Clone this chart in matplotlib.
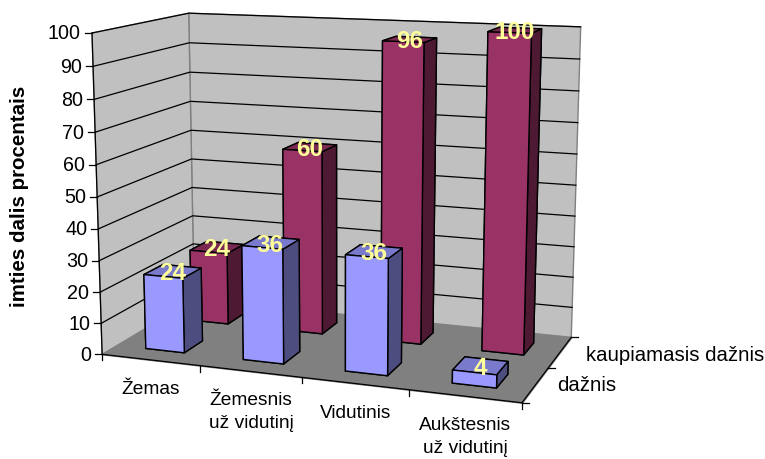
import matplotlib
matplotlib.use('Agg')
import matplotlib.pyplot as plt
from matplotlib.lines import Line2D
from matplotlib.transforms import IdentityTransform
from mpl_toolkits.mplot3d import proj3d
from mpl_toolkits.mplot3d.art3d import Poly3DCollection

plt.rcParams['font.family'] = ['Liberation Sans', 'DejaVu Sans']

categories = ['Žemas', 'Žemesnis\nuž vidutinį', 'Vidutinis', 'Aukštesnis\nuž vidutinį']
series_names = ['dažnis', 'kaupiamasis dažnis']
daznis = [24, 36, 36, 4]
kaupiamasis = [24, 60, 96, 100]
z_ticks = list(range(0, 101, 10))

W, H = 765, 459
fig = plt.figure(figsize=(W / 100, H / 100), dpi=100)
ax = fig.add_subplot(projection='3d', computed_zorder=False)
ax.set_axis_off()

# camera and box of the 3d scene
cx, cy, size = 333.2, 198.6, 563.0
ax.view_init(elev=11.666, azim=-70.13)
ax.set_proj_type('persp', focal_length=0.5245)
ax.set_box_aspect((1, 0.5055, 0.7492))
ax.set_position([(cx - size / 2) / W, (H - cy - size / 2) / H, size / W, size / H])

front = '#9999ff', '#4d4d80', '#7a7acc'
back = '#993366', '#4d1933', '#7a2952'


def faces(c):
    # bottom, top, front, back, left, right
    return [c[0], c[2], c[0], c[0], c[0], c[1]]


# walls and floor
floor = [(0, 0, 0), (4, 0, 0), (4, 1, 0), (0, 1, 0)]
lwall = [(0, 0, 0), (0, 1, 0), (0, 1, 100), (0, 0, 100)]
bwall = [(0, 1, 0), (4, 1, 0), (4, 1, 100), (0, 1, 100)]
ax.add_collection3d(Poly3DCollection([lwall, bwall], facecolors='#c0c0c0', edgecolors='#808080', linewidths=1, zorder=1))
ax.add_collection3d(Poly3DCollection([floor], facecolors='#808080', edgecolors='#808080', linewidths=1, zorder=1))
for z in z_ticks[1:]:
    ax.plot([0, 0, 4], [0, 1, 1], [z, z, z], color='black', lw=0.9, zorder=2)
ax.plot([0, 0], [0, 0], [0, 100], color='black', lw=0.9, zorder=2)
ax.plot([0, 4, 4], [0, 0, 1], [0, 0, 0], color='black', lw=0.9, zorder=2)

# bars, back row first
bar_w, bar_d = 0.4, 0.2
rows = [(kaupiamasis, back, 0.75), (daznis, front, 0.25)]
for row, (vals, col, yc) in enumerate(rows):
    for i, v in enumerate(vals):
        ax.bar3d(i + 0.5 - bar_w / 2, yc - bar_d / 2, 0, bar_w, bar_d, v, color=faces(col),
                 edgecolor='black', linewidth=1, shade=False, zorder=3 + row + i * 0.1)

ax.set_xlim(0, 4)
ax.set_ylim(0, 1)
ax.set_zlim(0, 100)
ax.apply_aspect()
M = ax.get_proj()
display = IdentityTransform()


def px(x, y, z):
    a, b, _ = proj3d.proj_transform(x, y, z, M)
    return ax.transData.transform((a, b))


def label(x, y, s, **kw):
    fig.text(x, y, s, transform=display, **kw)


def tick(x, y, dx, dy):
    fig.add_artist(Line2D([x, x + dx], [y, y + dy], transform=display, color='black', lw=0.9))


# value axis
for z in z_ticks:
    x, y = px(0, 0, z)
    tick(x, y, -7, 0)
    label(x - 11, y - 1, str(z), fontsize=14.2, ha='right', va='center')

# category axis
for i in range(5):
    x, y = px(i, 0, 0)
    tick(x, y, 0, -6)
for i, c in enumerate(categories):
    x, y = px(i + 0.5, 0, 0)
    label(x + 0.5, y - 21, c, fontsize=13.8, ha='center', va='top', linespacing=1.42)

# series axis
for t in [0, 0.5, 1]:
    x, y = px(4, t, 0)
    tick(x, y, 7, 0)
for name, t, dx, dy in zip(series_names, [0.25, 0.75], [22, 26], [-1, -3]):
    x, y = px(4, t, 0)
    label(x + dx, y + dy, name, fontsize=14.7, ha='left', va='center')

# value labels over the bars
for vals, col, yc in rows:
    for i, v in enumerate(vals):
        x, y = px(i + 0.5, yc, v)
        label(x - 0.5, y - 2.5, str(v), color='#ffff99', fontsize=17.5, fontweight='bold', ha='center', va='center')

label(20, H - 196, 'imties dalis procentais', rotation=90, fontsize=14.8, fontweight='bold', ha='center', va='center')
fig.savefig('out.png', dpi=100)
